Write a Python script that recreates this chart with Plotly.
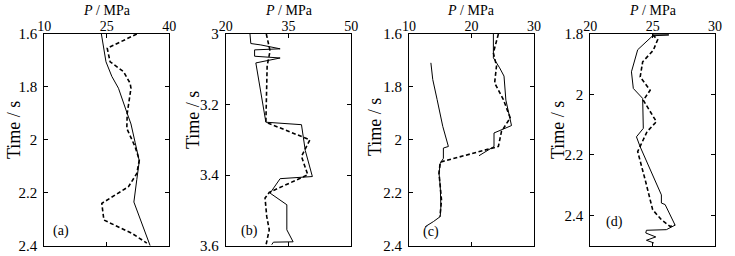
import plotly.graph_objects as go

# ---------------- data ----------------
# Panel (a)
a_solid_P = [23.7, 24.8, 26.2, 27.8, 29.6, 30.8, 31.8, 32.8, 32.2, 31.5, 35.4]
a_solid_t = [1.60, 1.705, 1.76, 1.805, 1.887, 1.94, 2.01, 2.08, 2.15, 2.235, 2.40]
a_dash_P = [32.2, 25.1, 25.8, 29.0, 30.6, 30.8, 29.9, 29.8, 31.8, 32.8, 32.2, 30.2, 23.8, 24.3, 31.0, 34.6]
a_dash_t = [1.60, 1.654, 1.705, 1.742, 1.786, 1.805, 1.90, 1.957, 2.026, 2.076, 2.127, 2.177, 2.24, 2.303, 2.353, 2.39]

# Panel (b)
b_solid_P = [25.8, 26.0, 28.4, 33.0, 26.9, 26.9, 33.0, 27.2, 29.6, 38.1, 39.0, 40.7, 33.0, 30.6, 34.6, 34.6, 36.1, 31.4, 31.0]
b_solid_t = [3.0, 3.027, 3.031, 3.042, 3.045, 3.063, 3.068, 3.082, 3.25, 3.257, 3.33, 3.404, 3.41, 3.451, 3.484, 3.555, 3.589, 3.590, 3.597]
b_dash_P = [29.7, 30.6, 29.9, 29.6, 40.1, 38.1, 39.6, 30.4, 29.4, 29.8, 30.4, 29.6]
b_dash_t = [3.0, 3.048, 3.09, 3.25, 3.30, 3.347, 3.399, 3.449, 3.465, 3.517, 3.555, 3.60]

# Panel (c)
c_solid1_P = [23.5, 23.5, 24.5, 25.2, 25.5, 26.4, 23.6, 23.6, 21.2]
c_solid1_t = [1.60, 1.69, 1.728, 1.759, 1.85, 1.946, 1.974, 2.025, 2.06]
c_solid2_P = [13.5, 13.8, 14.5, 15.4, 16.3, 15.5, 15.5, 15.0, 14.8, 15.0, 15.1, 15.0, 13.9, 12.6]
c_solid2_t = [1.709, 1.772, 1.848, 1.949, 2.025, 2.031, 2.07, 2.088, 2.126, 2.176, 2.252, 2.29, 2.309, 2.328]
c_dash_P = [24.3, 23.5, 24.0, 23.7, 25.1, 26.2, 24.8, 24.3, 15.0, 14.8, 15.0, 15.2, 15.0, 14.9]
c_dash_t = [1.60, 1.671, 1.721, 1.785, 1.848, 1.917, 1.968, 2.025, 2.084, 2.126, 2.176, 2.227, 2.278, 2.29]

# Panel (d)
d_solid_P = [25.0, 26.3, 25.0, 23.8, 23.3, 23.45, 24.2, 24.25, 23.7, 24.0, 25.7, 25.7, 26.0, 26.4, 26.8, 26.1, 24.5, 24.45, 25.25, 24.5, 25.1]
d_solid_t = [1.803, 1.803, 1.806, 1.852, 1.925, 1.98, 2.013, 2.112, 2.14, 2.173, 2.332, 2.359, 2.364, 2.401, 2.432, 2.447, 2.449, 2.458, 2.471, 2.482, 2.491]
d_dash_P = [25.0, 25.4, 25.05, 24.2, 24.0, 24.8, 24.25, 25.3, 24.55, 23.8, 24.4, 25.0, 25.7, 26.4, 26.8]
d_dash_t = [1.803, 1.819, 1.854, 1.892, 1.942, 1.986, 2.019, 2.09, 2.123, 2.189, 2.282, 2.381, 2.414, 2.436, 2.432]

# Axis settings
x_ranges = [[10, 40], [20, 50], [10, 30], [20, 30]]
x_ticks = [[10, 25, 40], [20, 35, 50], [10, 20, 30], [20, 25, 30]]
y_ranges = [[2.4, 1.6], [3.6, 3.0], [2.4, 1.6], [2.5, 1.8]]
y_ticks = [[1.6, 1.8, 2.0, 2.2, 2.4], [3.0, 3.2, 3.4, 3.6], [1.6, 1.8, 2.0, 2.2, 2.4], [1.8, 2.0, 2.2, 2.4]]
panel_labels = ["(a)", "(b)", "(c)", "(d)"]
x_title = "<i>P</i> / MPa"
y_title = "Time / s"

# ---------------- layout geometry (pixels) ----------------
W, H = 735, 256
x_px = [(44.3, 169.3), (225.7, 351.3), (409.0, 534.0), (590.3, 715.0)]
y_px = (34.0, 245.7)
ytitle_px = [(14, 130), (193, 120), (375, 127), (558, 130)]
xtitle_y_px = 10
label_px = [(61, 231), (249, 231), (431, 232), (614, 222)]

FONT = "Liberation Serif"
solid_style = dict(color="black", width=1)
dash_style = dict(color="black", width=1.6, dash="4px,2.5px")

fig = go.Figure()

series = [
    [(a_solid_P, a_solid_t, solid_style), (a_dash_P, a_dash_t, dash_style)],
    [(b_solid_P, b_solid_t, solid_style), (b_dash_P, b_dash_t, dash_style)],
    [(c_solid1_P, c_solid1_t, solid_style), (c_solid2_P, c_solid2_t, solid_style), (c_dash_P, c_dash_t, dash_style)],
    [(d_solid_P, d_solid_t, solid_style), (d_dash_P, d_dash_t, dash_style)],
]

for i, traces in enumerate(series):
    xa = "x" if i == 0 else f"x{i+1}"
    ya = "y" if i == 0 else f"y{i+1}"
    for P, t, style in traces:
        fig.add_trace(go.Scatter(x=P, y=t, mode="lines", line=style,
                                 xaxis=xa, yaxis=ya, showlegend=False, hoverinfo="skip"))

    xk = "xaxis" if i == 0 else f"xaxis{i+1}"
    yk = "yaxis" if i == 0 else f"yaxis{i+1}"
    x0, x1 = x_px[i]
    fig.layout[xk] = dict(
        domain=[x0 / W, x1 / W], range=x_ranges[i], tickvals=x_ticks[i],
        side="top", anchor=ya, showline=True, linecolor="black", linewidth=1,
        mirror="ticks", ticks="inside", ticklen=4, tickcolor="black",
        showgrid=False, zeroline=False, automargin=False, ticklabelstandoff=-4,
        tickfont=dict(family=FONT, size=14, color="black"),
    )
    fig.layout[yk] = dict(
        domain=[1 - y_px[1] / H, 1 - y_px[0] / H], range=y_ranges[i], tickvals=y_ticks[i],
        anchor=xa, showline=True, linecolor="black", linewidth=1,
        mirror="ticks", ticks="inside", ticklen=4, tickcolor="black",
        showgrid=False, zeroline=False, automargin=False, ticklabelstandoff=3,
        tickfont=dict(family=FONT, size=15, color="black"),
    )
    # axis titles
    fig.add_annotation(text=x_title, xref="paper", yref="paper",
                       x=(x0 + x1) / 2 / W, y=1 - xtitle_y_px / H,
                       showarrow=False, xanchor="center", yanchor="middle",
                       font=dict(family=FONT, size=14, color="black"))
    tx, ty = ytitle_px[i]
    fig.add_annotation(text=y_title, xref="paper", yref="paper",
                       x=tx / W, y=1 - ty / H, textangle=-90,
                       showarrow=False, xanchor="center", yanchor="middle",
                       font=dict(family=FONT, size=18, color="black"))
    lx, ly = label_px[i]
    fig.add_annotation(text=panel_labels[i], xref="paper", yref="paper",
                       x=lx / W, y=1 - ly / H, showarrow=False,
                       xanchor="center", yanchor="middle",
                       font=dict(family=FONT, size=14, color="black"))

fig.update_layout(width=W, height=H, margin=dict(l=0, r=0, t=0, b=0),
                  plot_bgcolor="white", paper_bgcolor="white")

fig.write_html("out.html", config={"displayModeBar": False},
               post_script="document.body.style.margin='0px';")
